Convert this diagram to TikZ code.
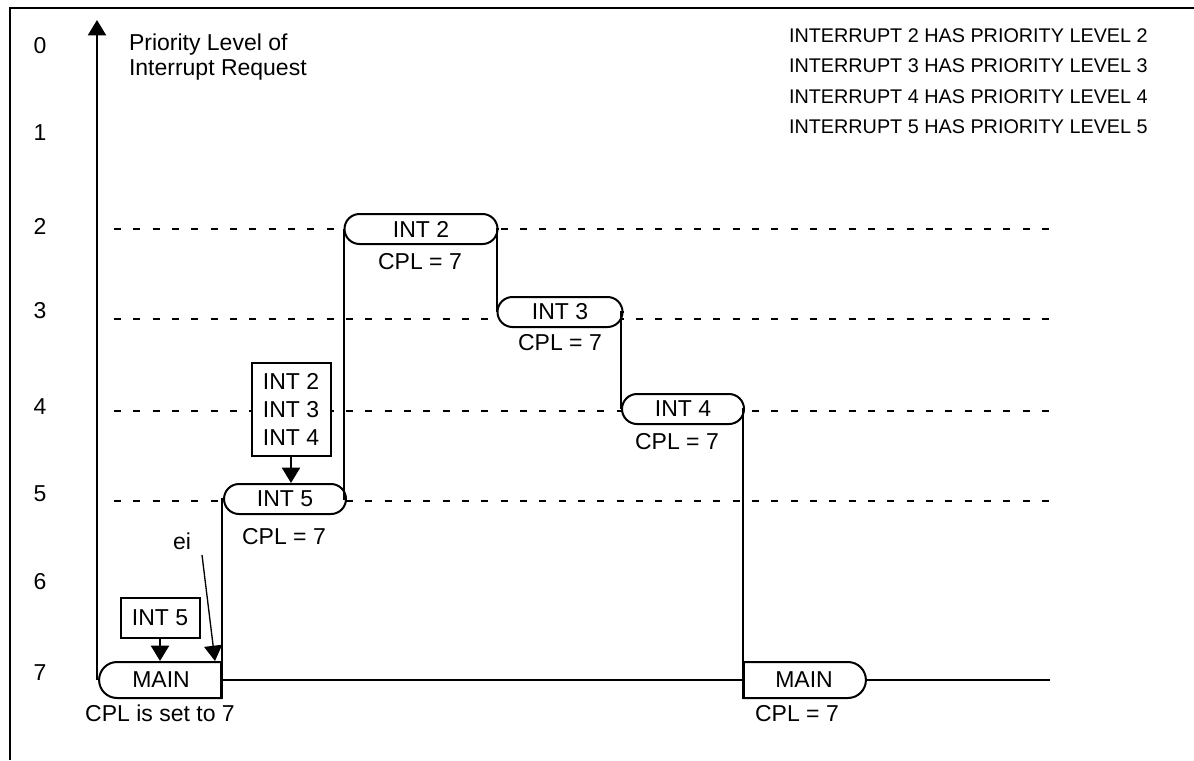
\documentclass[tikz,border=0pt]{standalone}
\usepackage{fontspec}
\setmainfont{Liberation Sans}
\usetikzlibrary{arrows.meta, positioning, shapes.misc}
\newcommand{\chartfont}{\fontsize{17.25}{20.7}\selectfont}
\newcommand{\notefont}{\fontsize{14.85}{17.8}\selectfont}
\tikzset{
    prioritychart/.style={>={Triangle[width=13.5pt, length=11.5pt]}, line width=1.5pt, font=\chartfont, x=0.75pt, y=-0.75pt},
    pill/.style={draw, fill=white, rounded rectangle, minimum width=91.5pt, minimum height=22.5pt, inner sep=0pt},
    % MAIN is rounded on one end only
    mainpill/.style={pill, minimum height=27pt},
    flagbox/.style={draw, fill=white, minimum width=59.25pt, align=center, inner sep=0pt},
    levelline/.style={dash pattern=on 5.25pt off 9.25pt},
    plain/.style={inner sep=0pt},
}

\begin{document}
\begin{tikzpicture}[prioritychart]
    \useasboundingbox (0,0) rectangle (1194,760);
    \coordinate (framebl) at (10,760);
    \coordinate (frametr) at (1194,8);
    \draw[line width=2pt] (framebl) |- (frametr);

    % priority axis
    \coordinate (axisbot) at (97,680);
    \coordinate (axistop) at (97,20);
    \draw[->] (axisbot) -- (axistop);
    \node[plain, anchor=west, align=left, font=\fontsize{17.25}{18.75}\selectfont] (axislabel) at (128,57.5) {Priority Level of\\Interrupt Request};
    \foreach \lvl/\ypos in {0/46, 1/133, 2/226, 3/311, 4/407, 5/494, 6/582, 7/673}
        \node[plain] (lvl\lvl) at (40,\ypos) {\lvl};

    \foreach \lvl/\ypos in {2/229, 3/319, 4/411, 5/501} {
        \coordinate (gl\lvl) at (114,\ypos);
        \coordinate (gr\lvl) at (1050,\ypos);
        \draw[levelline] (gl\lvl) -- (gr\lvl);
    }

    \foreach \n/\ypos in {2/36, 3/66, 4/97, 5/127}
        \node[plain, anchor=west, font=\notefont] (note\n) at (788,\ypos) {INTERRUPT \n{} HAS PRIORITY LEVEL \n};

    % routines
    \node[mainpill, rounded rectangle right arc=none] (main)  at (161,680) {MAIN};
    \node[pill]                                      (int5)  at (285,499) {INT 5};
    \node[pill, minimum width=114.75pt]              (int2)  at (421,229) {INT 2};
    \node[pill, minimum width=93.75pt]               (int3)  at (560,312) {INT 3};
    \node[pill]                                      (int4)  at (683,409) {INT 4};
    \node[mainpill, rounded rectangle left arc=none] (main2) at (804,680) {MAIN};
    \coordinate (tail) at (1050,680);

    \node[plain] (cplmain)  at (160,713) {CPL is set to 7};
    \node[plain] (cplint5)  at (284,537) {CPL = 7};
    \node[plain] (cplint2)  at (420,262) {CPL = 7};
    \node[plain] (cplint3)  at (560,343) {CPL = 7};
    \node[plain] (cplint4)  at (677,442) {CPL = 7};
    \node[plain] (cplmain2) at (797,714) {CPL = 7};

    \draw (main.east) -- (main2.west);
    \draw (main2.east) -- (tail);
    \draw (main.south east) |- (int5.west);
    \draw (int5.east) -| (int2.west);
    \draw (int2.east) -| (int3.west);
    \draw (int3.east) -| (int4.west);
    \draw (int4.east) -| (main2.south west);

    % pending requests
    \node[flagbox, minimum height=30pt]    (req5)    at (160,618) {INT 5};
    \node[flagbox, minimum height=69.75pt] (req234)  at (291,409.5) {INT 2\\INT 3\\INT 4};
    \draw[->] (req5.south) -- (req5.south |- main.north);
    \draw[->] (req234.south) -- (req234.south |- int5.north);

    \node[plain] (ei) at (182,541) {ei};
    \coordinate (eistart) at (202,555);
    \coordinate (eiend) at (215,661);
    \draw[->, line width=1pt] (eistart) -- (eiend);
\end{tikzpicture}
\end{document}
